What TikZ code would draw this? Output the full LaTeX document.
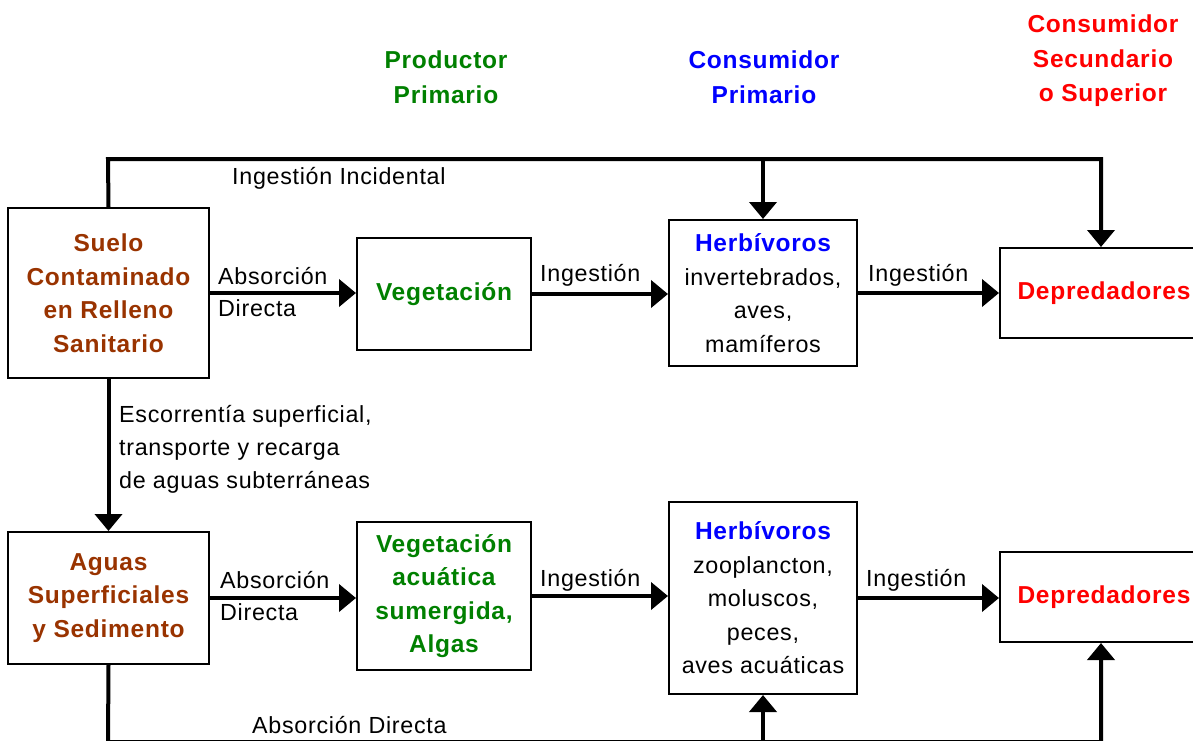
\documentclass[tikz,border=0pt]{standalone}
\usepackage{fontspec}
\setmainfont{Liberation Sans}[LetterSpace=3,BoldFeatures={LetterSpace=3}]
\usetikzlibrary{arrows.meta}
\definecolor{suelocol}{HTML}{993300}
\definecolor{prodcol}{HTML}{008000}
\definecolor{conscol}{HTML}{0000FF}
\definecolor{depcol}{HTML}{FF0000}
\begin{document}
\begin{tikzpicture}[x=1pt,y=-1pt,
  box/.style={draw,line width=2pt,inner sep=0pt,align=center},
  bigtext/.style={font=\fontsize{24.5}{33.5}\selectfont\bfseries},
  smalltext/.style={font=\fontsize{23.3}{33.5}\selectfont},
  conn/.style={line width=4pt,-{Triangle[length=17pt,width=27pt]}},
  lbl/.style={inner sep=0pt,font=\fontsize{23.3}{33}\selectfont,anchor=base west},
  head/.style={inner sep=0pt,align=center,font=\fontsize{24.5}{34.5}\selectfont\bfseries}
]
\useasboundingbox (0,0) rectangle (1193,740);
\clip (0,0) rectangle (1193,740);

% headings
\node[head,text=prodcol] (hprod) at (446,77) {Productor\\Primario};
\node[head,text=conscol] (hcons) at (764,77) {Consumidor\\Primario};
\node[head,text=depcol] (hsec) at (1103,61) {Consumidor\\Secundario\\o Superior};

% top row boxes
\node[box,bigtext,text=suelocol,minimum width=201pt,minimum height=170pt] (suelo) at (108.5,293) {Suelo\\Contaminado\\en Relleno\\Sanitario};
\node[box,bigtext,text=prodcol,minimum width=174pt,minimum height=112pt] (veg) at (444,294) {Vegetación};
\node[box,smalltext,minimum width=188pt,minimum height=146pt] (herbt) at (763,293) {{\fontsize{24.5}{33.5}\selectfont\bfseries\color{conscol}Herbívoros}\\invertebrados,\\aves,\\mamíferos};
\node[box,bigtext,text=depcol,minimum width=208pt,minimum height=90pt] (dept) at (1104,293) {Depredadores};

% bottom row boxes
\node[box,bigtext,text=suelocol,minimum width=201pt,minimum height=132pt] (aguas) at (108.5,598) {Aguas\\Superficiales\\y Sedimento};
\node[box,bigtext,text=prodcol,minimum width=174pt,minimum height=148pt] (vega) at (444,596) {Vegetación\\acuática\\sumergida,\\Algas};
\node[box,smalltext,minimum width=188pt,minimum height=192pt] (herbb) at (763,598) {{\fontsize{24.5}{33.5}\selectfont\bfseries\color{conscol}Herbívoros}\\zooplancton,\\moluscos,\\peces,\\aves acuáticas};
\node[box,bigtext,text=depcol,minimum width=208pt,minimum height=90pt] (depb) at (1104,597) {Depredadores};

% top loop
\coordinate (tl) at (108,159);
\coordinate (tr) at (1101,159);
\coordinate (tm) at (763,159);
\draw[conn] (suelo.north) -- (tl) -- (tr) -- (tr |- dept.north);
\draw[conn] (tm) -- (herbt.north);

% top row horizontal
\draw[conn] (suelo.east) -- (suelo.east -| veg.west);
\draw[conn] (veg.east) -- (veg.east -| herbt.west);
\draw[conn] (herbt.east) -- (herbt.east -| dept.west);

% vertical
\draw[conn] (suelo.south) -- (aguas.north);

% bottom row horizontal
\draw[conn] (aguas.east) -- (aguas.east -| vega.west);
\draw[conn] (vega.east) -- (vega.east -| herbb.west);
\draw[conn] (herbb.east) -- (herbb.east -| depb.west);

% bottom loop
\coordinate (bl) at (108,742);
\coordinate (br) at (1101,742);
\coordinate (bm) at (763,742);
\draw[conn] (aguas.south) -- (bl) -- (br) -- (br |- depb.south);
\draw[conn] (bm) -- (herbb.south);

% labels
\node[lbl] (l1) at (232,184) {Ingestión Incidental};
\node[lbl] (l2) at (218,284) {Absorción};
\node[lbl] (l3) at (218,316) {Directa};
\node[lbl] (l4) at (540,281) {Ingestión};
\node[lbl] (l5) at (868,281) {Ingestión};
\node[lbl] (l6) at (119,422) {Escorrentía superficial,};
\node[lbl] (l7) at (119,455) {transporte y recarga};
\node[lbl] (l8) at (119,488) {de aguas subterráneas};
\node[lbl] (l9) at (220,588) {Absorción};
\node[lbl] (l10) at (220,620) {Directa};
\node[lbl] (l11) at (540,586) {Ingestión};
\node[lbl] (l12) at (866,586) {Ingestión};
\node[lbl] (l13) at (252,733) {Absorción Directa};
\end{tikzpicture}
\end{document}
